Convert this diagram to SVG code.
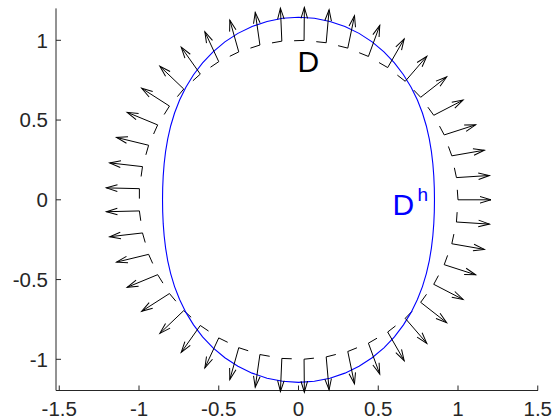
<svg xmlns="http://www.w3.org/2000/svg" width="553" height="419" viewBox="0 0 553 419">
<style>
.ax{stroke:#262626;stroke-width:1;fill:none}
.tl{font-family:"Liberation Sans",Arial,sans-serif;font-size:20.5px;fill:#262626}
.arr{stroke:#000;stroke-width:1;fill:none;marker-end:url(#ah)}
.circ{stroke:#000;stroke-width:1;fill:none;stroke-dasharray:10 12.25}
.dh{stroke:#0000ff;stroke-width:1.1;fill:none}
.lbl{font-family:"Liberation Sans",Arial,sans-serif}
</style>
<defs>
<marker id="ah" markerUnits="userSpaceOnUse" orient="auto" refX="0" refY="0" markerWidth="1" markerHeight="1" style="overflow:visible">
<path d="M-11,-3.3 L0,0 L-11,3.3" fill="none" stroke="#000" stroke-width="1"/>
</marker>
</defs>
<rect width="553" height="419" fill="#fff"/>
<g id="axes">
<path class="ax" d="M56,8.4 V390.5 H538"/>
<path class="ax" d="M56,40.3 h5 M56,120.05 h5 M56,199.8 h5 M56,279.55 h5 M56,359.3 h5 M59.25,390.5 v-5 M139,390.5 v-5 M218.75,390.5 v-5 M298.5,390.5 v-5 M378.25,390.5 v-5 M458,390.5 v-5 M537.75,390.5 v-5"/>
<g class="tl" text-anchor="end">
<text x="48" y="47.6">1</text>
<text x="48" y="127.4">0.5</text>
<text x="48" y="207.1">0</text>
<text x="48" y="286.9">-0.5</text>
<text x="48" y="366.6">-1</text>
</g>
<g class="tl" text-anchor="middle">
<text x="59.25" y="415.8">-1.5</text>
<text x="139" y="415.8">-1</text>
<text x="218.75" y="415.8">-0.5</text>
<text x="298.5" y="415.8">0</text>
<text x="378.25" y="415.8">0.5</text>
<text x="458" y="415.8">1</text>
<text x="537.75" y="415.8">1.5</text>
</g>
</g>
<g id="D">
<path class="circ" d="M458,199.8 L456.45,177.6 L451.82,155.84 L444.21,134.92 L433.76,115.28 L420.68,97.27 L405.23,81.27 L387.69,67.57 L368.42,56.44 L347.79,48.11 L326.2,42.72 L304.07,40.4 L281.83,41.17 L259.91,45.04 L238.75,51.91 L218.75,61.67 L200.3,74.11 L183.76,89 L169.46,106.05 L157.67,124.92 L148.62,145.25 L142.49,166.64 L139.39,188.67 L139.39,210.93 L142.49,232.96 L148.62,254.35 L157.67,274.68 L169.46,293.55 L183.76,310.6 L200.3,325.49 L218.75,337.93 L238.75,347.69 L259.91,354.56 L281.83,358.43 L304.07,359.2 L326.2,356.88 L347.79,351.49 L368.42,343.16 L387.69,332.03 L405.23,318.33 L420.68,302.33 L433.76,284.32 L444.21,264.68 L451.82,243.76 L456.45,222 Z"/>
</g>
<g id="Dh">
<path class="dh" d="M434.47,199.8 L434.31,187.92 L433.79,175.94 L432.85,163.8 L431.39,151.43 L429.27,138.82 L426.34,125.99 L422.44,113.02 L417.4,100.03 L411.11,87.19 L403.47,74.7 L394.42,62.81 L383.95,51.79 L372.13,41.89 L359.07,33.38 L344.94,26.48 L329.96,21.41 L314.38,18.3 L298.5,17.25 L282.62,18.3 L267.04,21.41 L252.06,26.48 L237.93,33.38 L224.87,41.89 L213.05,51.79 L202.58,62.81 L193.53,74.7 L185.89,87.19 L179.6,100.03 L174.56,113.02 L170.66,125.99 L167.73,138.82 L165.61,151.43 L164.15,163.8 L163.21,175.94 L162.69,187.92 L162.53,199.8 L162.69,211.68 L163.21,223.66 L164.15,235.8 L165.61,248.17 L167.73,260.78 L170.66,273.61 L174.56,286.58 L179.6,299.57 L185.89,312.41 L193.53,324.9 L202.58,336.79 L213.05,347.81 L224.87,357.71 L237.93,366.22 L252.06,373.12 L267.04,378.19 L282.62,381.3 L298.5,382.35 L314.38,381.3 L329.96,378.19 L344.94,373.12 L359.07,366.22 L372.13,357.71 L383.95,347.81 L394.42,336.79 L403.47,324.9 L411.11,312.41 L417.4,299.57 L422.44,286.58 L426.34,273.61 L429.27,260.78 L431.39,248.17 L432.85,235.8 L433.79,223.66 L434.31,211.68 Z"/>
</g>
<g id="arrows">
<path class="arr" d="M458,199.8 L491,199.8"/>
<path class="arr" d="M456.45,177.6 L489.39,175.49"/>
<path class="arr" d="M451.82,155.84 L484.33,150.18"/>
<path class="arr" d="M444.21,134.92 L475.62,124.8"/>
<path class="arr" d="M433.76,115.28 L463.07,100.11"/>
<path class="arr" d="M420.68,97.27 L446.67,76.94"/>
<path class="arr" d="M405.23,81.27 L426.8,56.29"/>
<path class="arr" d="M387.69,67.57 L404.17,38.98"/>
<path class="arr" d="M368.42,56.44 L379.76,25.45"/>
<path class="arr" d="M347.79,48.11 L354.49,15.8"/>
<path class="arr" d="M326.2,42.72 L329.1,9.85"/>
<path class="arr" d="M304.07,40.4 L304.37,7.4"/>
<path class="arr" d="M281.83,41.17 L280.42,8.2"/>
<path class="arr" d="M259.91,45.04 L255.24,12.37"/>
<path class="arr" d="M238.75,51.91 L229.82,20.14"/>
<path class="arr" d="M218.75,61.67 L204.87,31.73"/>
<path class="arr" d="M200.3,74.11 L181.23,47.18"/>
<path class="arr" d="M183.76,89 L159.86,66.24"/>
<path class="arr" d="M169.46,106.05 L141.66,88.27"/>
<path class="arr" d="M157.67,124.92 L127.17,112.32"/>
<path class="arr" d="M148.62,145.25 L116.55,137.46"/>
<path class="arr" d="M142.49,166.64 L109.7,162.89"/>
<path class="arr" d="M139.39,188.67 L106.4,187.88"/>
<path class="arr" d="M139.39,210.93 L106.4,211.72"/>
<path class="arr" d="M142.49,232.96 L109.7,236.71"/>
<path class="arr" d="M148.62,254.35 L116.55,262.14"/>
<path class="arr" d="M157.67,274.68 L127.17,287.28"/>
<path class="arr" d="M169.46,293.55 L141.66,311.33"/>
<path class="arr" d="M183.76,310.6 L159.86,333.36"/>
<path class="arr" d="M200.3,325.49 L181.23,352.42"/>
<path class="arr" d="M218.75,337.93 L204.87,367.87"/>
<path class="arr" d="M238.75,347.69 L229.82,379.46"/>
<path class="arr" d="M259.91,354.56 L255.24,387.23"/>
<path class="arr" d="M281.83,358.43 L280.42,391.4"/>
<path class="arr" d="M304.07,359.2 L304.37,392.2"/>
<path class="arr" d="M326.2,356.88 L329.1,389.75"/>
<path class="arr" d="M347.79,351.49 L354.49,383.8"/>
<path class="arr" d="M368.42,343.16 L379.76,374.15"/>
<path class="arr" d="M387.69,332.03 L404.17,360.62"/>
<path class="arr" d="M405.23,318.33 L426.8,343.31"/>
<path class="arr" d="M420.68,302.33 L446.67,322.66"/>
<path class="arr" d="M433.76,284.32 L463.07,299.49"/>
<path class="arr" d="M444.21,264.68 L475.62,274.8"/>
<path class="arr" d="M451.82,243.76 L484.33,249.42"/>
<path class="arr" d="M456.45,222 L489.39,224.11"/>
</g>
<g id="labels" class="lbl">
<text x="297.6" y="71.7" font-size="30" fill="#000">D</text>
<text x="392.6" y="215" font-size="30" fill="#0000ff">D</text>
<text x="417.5" y="200.5" font-size="19" fill="#0000ff">h</text>
</g>
</svg>
